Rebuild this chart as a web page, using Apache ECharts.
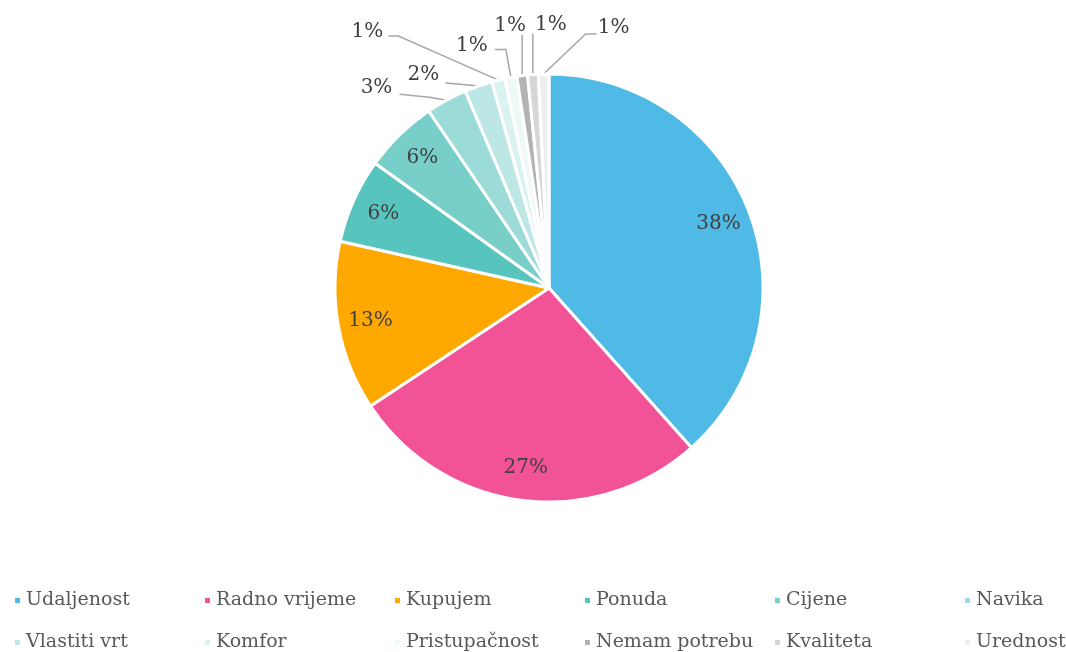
<!DOCTYPE html>
<html>
<head>
<meta charset="utf-8">
<script src="https://cdn.jsdelivr.net/npm/echarts@6/dist/echarts.min.js"></script>
<style>
  html, body { margin: 0; padding: 0; background: #fff; }
  #chart { width: 1066px; height: 652px; }
</style>
</head>
<body>
<div id="chart"></div>
<script>
// categories and shares (in %)
var categories = ["Udaljenost", "Radno vrijeme", "Kupujem", "Ponuda", "Cijene", "Navika",
  "Vlastiti vrt", "Komfor", "Pristupačnost", "Nemam potrebu", "Kvaliteta", "Urednost"];
var shares = [38.4, 27.3, 12.8, 6.4, 5.6, 3.1, 2.1, 1.0, 0.9, 0.8, 0.8, 0.8];
var sliceColors = ["#4FBAE6", "#F25396", "#FFA800", "#58C4BE", "#78CFCA", "#9CDBD7",
  "#BCE7E4", "#DAF2F0", "#EDF8F7", "#B3B3B3", "#D6D6D6", "#EEEEEE"];

var CX = 549, CY = 288, R = 214;
var FONT = "DejaVu Serif";
// how many slices get their label inside
var insideCount = 5;

// callout placement for the small slices, relative to the slice edge point:
// [label centre dx, dy], [elbow dx, dy], [line end dx, dy]
var callouts = {
  5: [[-70, -12], [-17, -3], [-47, -6]],
  6: [[-55, -11], [-21, -2], [-33, -3]],
  7: [[-131, -48], [-100, -44], [-110, -44]],
  8: [[-39, -32], [-5, -28], [-16, -28]],
  9: [[-12, -50], [0, -41], [0, -41]],
  10: [[18, -50], [0, -41], [0, -41]],
  11: [[70, -46], [42, -40], [53, -40]]
};

var chart = echarts.init(document.getElementById("chart"));

var seriesData = categories.map(function (name, i) {
  var inside = i < insideCount;
  return {
    name: name,
    value: shares[i],
    itemStyle: { color: sliceColors[i] },
    label: { position: inside ? "inside" : "outside" },
    labelLine: { show: !inside }
  };
});

// legend laid out as six columns of two items
var legendCols = [];
for (var j = 0; j < 6; j++) {
  legendCols.push({
    orient: "vertical",
    left: 13 + j * 190,
    top: 591,
    padding: 0,
    icon: "rect",
    itemWidth: 7,
    itemHeight: 7,
    itemGap: 23,
    textStyle: { fontFamily: FONT, fontSize: 19, color: "#595959" },
    data: [categories[j], categories[j + 6]]
  });
}

chart.setOption({
  animation: false,
  color: sliceColors,
  legend: legendCols,
  series: [{
    type: "pie",
    center: [CX, CY],
    radius: [0, R],
    startAngle: 90,
    clockwise: true,
    avoidLabelOverlap: false,
    itemStyle: { borderColor: "#fff", borderWidth: 3 },
    label: {
      fontFamily: FONT,
      fontSize: 20,
      color: "#404040",
      formatter: function (p) { return Math.round(p.percent) + "%"; }
    },
    labelLine: {
      length: 10,
      length2: 10,
      lineStyle: { color: "#A6A6A6", width: 1.5 }
    },
    labelLayout: function (p) {
      var i = p.dataIndex;
      var lr = p.labelRect;
      if (i < insideCount) {
        // push inside labels out towards the rim
        var lx = lr.x + lr.width / 2, ly = lr.y + lr.height / 2;
        var k = 1.65;
        return {
          x: CX + (lx - CX) * k,
          y: CY + (ly - CY) * k,
          align: "center",
          verticalAlign: "middle"
        };
      }
      var c = callouts[i];
      var a = p.labelLinePoints[0];
      return {
        x: a[0] + c[0][0],
        y: a[1] + c[0][1],
        align: "center",
        verticalAlign: "middle",
        labelLinePoints: [
          [a[0], a[1]],
          [a[0] + c[1][0], a[1] + c[1][1]],
          [a[0] + c[2][0], a[1] + c[2][1]]
        ]
      };
    },
    data: seriesData
  }]
});
</script>
</body>
</html>
